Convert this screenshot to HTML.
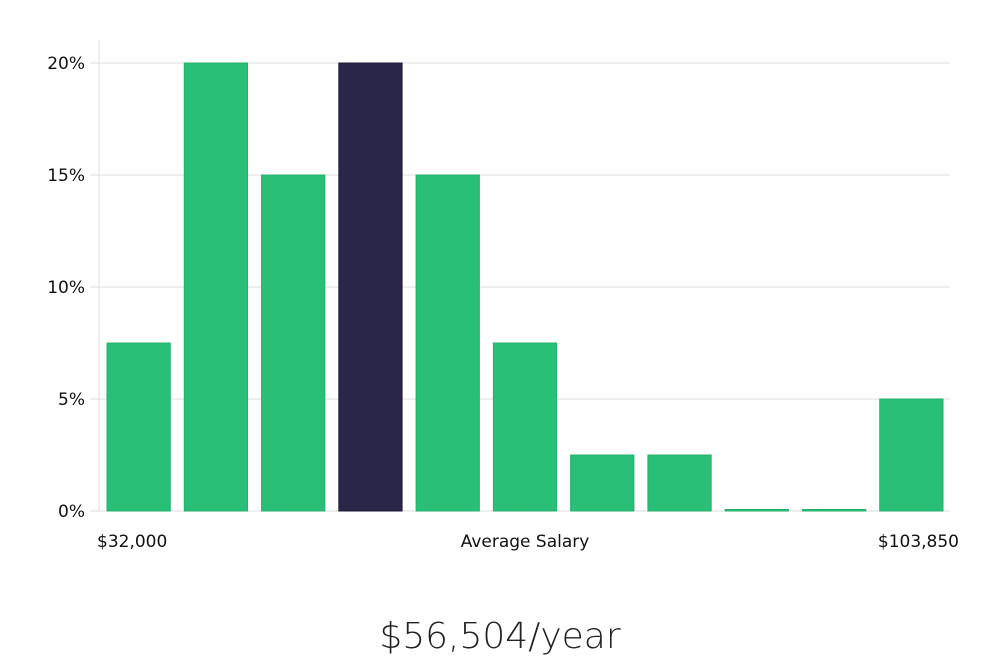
<!DOCTYPE html>
<html><head><meta charset="utf-8"><style>
body{margin:0;background:#fff;width:1000px;height:660px;overflow:hidden;font-family:"DejaVu Sans","Liberation Sans",sans-serif}
</style></head><body>
<svg width="1000" height="660">
<g id="grid"></g><g id="bars"></g><g id="labels"></g>
<text x="500" y="648" text-anchor="middle" font-size="36" fill="#222" font-weight="300" font-family="'DejaVu Sans','Liberation Sans',sans-serif" style="font-stretch:condensed">$56,504/year</text>
</svg>
<script>
const categories=["b1","b2","b3","b4","b5","b6","b7","b8","b9","b10","b11"];
const values=[7.5,20,15,20,15,7.5,2.5,2.5,0,0,5];
const highlight=[false,false,false,true,false,false,false,false,false,false,false];
const yTicks=[0,5,10,15,20];
const xLabels=["$32,000","Average Salary","$103,850"];
const NS="http://www.w3.org/2000/svg";
const x0=100,x1=950,y0=511,yTop=63,yMax=20;
const y=v=>y0-(v/yMax)*(y0-yTop);
const slot=(x1-x0)/categories.length;
function mk(t,a,p){const e=document.createElementNS(NS,t);for(const k in a)e.setAttribute(k,a[k]);p.appendChild(e);return e;}
const g=document.getElementById('grid'),b=document.getElementById('bars'),l=document.getElementById('labels');
const ax=mk('line',{x1:99,x2:99,y1:40,y2:y0,stroke:'#ddd','stroke-width':1},g);


yTicks.forEach(t=>{
 const ln=mk('line',{x1:90,x2:x1,y1:y(t),y2:y(t),stroke:'#ddd','stroke-width':1},g);
 
 
 const tx=mk('text',{x:85,y:y(t)+6,'text-anchor':'end','font-size':17,fill:'#111'},l);
 tx.textContent=t+'%';
 
 
});
values.forEach((v,i)=>{
 const h=Math.max(y0-y(v),1.5);
 const r=mk('rect',{x:x0+i*slot+7,y:y0-h,width:slot-14,height:h,fill:highlight[i]?'#292747':'#2abf77',stroke:highlight[i]?'#1e1c3a':'#25b06c','stroke-width':1},b);
 
 
});
const pos=[[97,'start'],[525,'middle'],[959,'end']];
xLabels.forEach((s,i)=>{
 const tx=mk('text',{x:pos[i][0],y:547,'text-anchor':pos[i][1],'font-size':17,fill:'#111'},l);
 tx.textContent=s;
 
 
});
</script>
</body></html>
